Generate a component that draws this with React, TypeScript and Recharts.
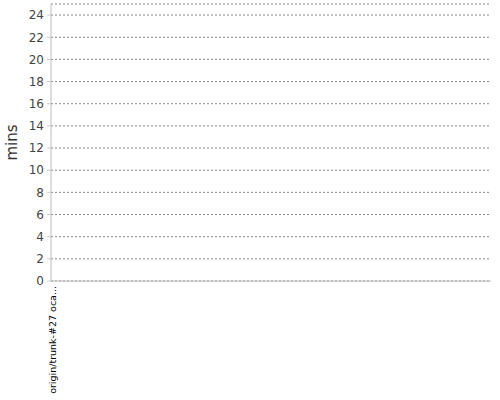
import React from 'react';
import { BarChart, Bar, XAxis, YAxis, CartesianGrid } from 'recharts';

// one build, no duration recorded
const builds = ['origin/trunk-#27 oca...'];
const durations = [0];
const yTicks = [0, 2, 4, 6, 8, 10, 12, 14, 16, 18, 20, 22, 24];

const data = builds.map((name, i) => ({ slot: i, name, mins: durations[i] }));

const FONT = 'DejaVu Sans, sans-serif';

const BuildTick = (props: any) => {
  const { x, y, payload } = props;
  const label = builds[payload.value] ?? '';
  return (
    <g transform={`translate(${x + 4},${y + 5})`}>
      <text transform="rotate(-90)" x={0} y={0} textAnchor="end" fontSize={9.5} fill="#000" fontFamily={FONT}>
        {label}
      </text>
    </g>
  );
};

const App: React.FC = () => {
  return (
    <div style={{ position: 'absolute', left: 0, top: 0, background: '#fff' }}>
      <BarChart
        width={500}
        height={400}
        data={data}
        margin={{ top: 4, right: 9, bottom: 0, left: 0 }}
      >
        {/* spacer axes: the axis lines sit a few px off the plot area */}
        <XAxis xAxisId="gap" height={4} axisLine={false} tick={false} tickLine={false} />
        <YAxis yAxisId="gap" width={4} domain={[0, 1]} axisLine={false} tick={false} tickLine={false} />
        <CartesianGrid horizontal vertical={false} stroke="#888" strokeDasharray="2 2" />
        <XAxis
          dataKey="slot"
          type="number"
          domain={[0, 110]}
          ticks={[0]}
          padding={{ left: 1, right: 0 }}
          height={115}
          interval={0}
          tick={<BuildTick />}
          tickSize={0}
          tickMargin={0}
          tickLine={false}
          axisLine={{ stroke: '#bbb' }}
        />
        <YAxis
          domain={[0, 25]}
          ticks={yTicks}
          interval={0}
          width={47}
          tickSize={4}
          tickMargin={3}
          tickLine={{ stroke: '#ccc' }}
          axisLine={{ stroke: '#bbb' }}
          tick={{ fill: '#444', fontSize: 12, fontFamily: FONT }}
          label={{
            value: 'mins',
            angle: -90,
            position: 'insideLeft',
            offset: 8,
            style: { fill: '#333', fontSize: 15, fontFamily: FONT, textAnchor: 'middle' },
          }}
        />
        <Bar dataKey="mins" fill="#4572a7" barSize={10} isAnimationActive={false} />
      </BarChart>
    </div>
  );
};

export default App;
